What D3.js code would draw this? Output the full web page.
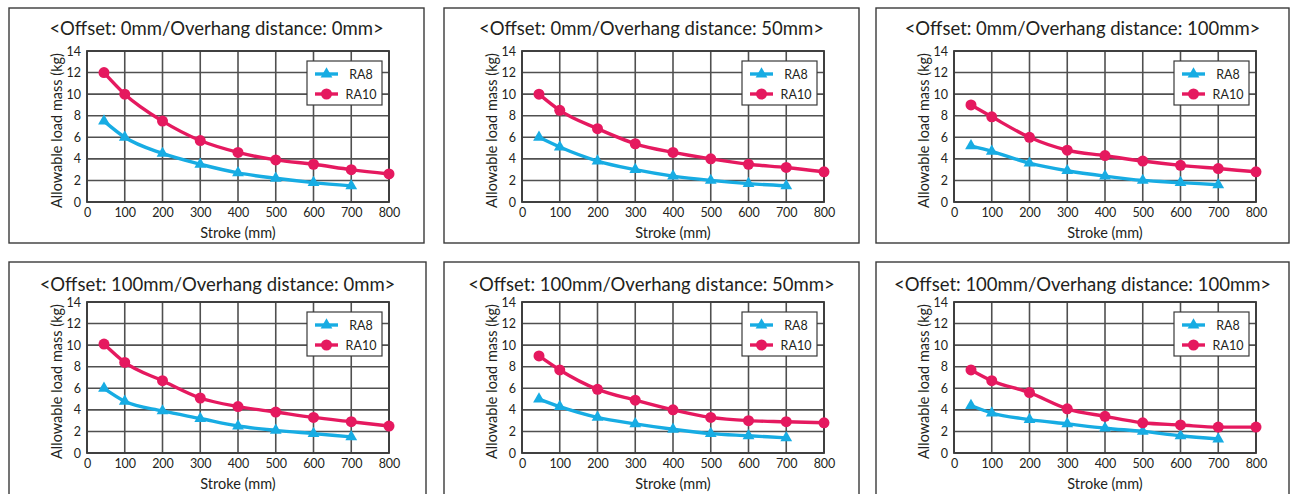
<!DOCTYPE html>
<html><head><meta charset="utf-8">
<script src="https://cdn.jsdelivr.net/npm/d3@7"></script>
<style>body{margin:0;background:#fff}svg{display:block}text{font-family:Lato,"Noto Sans",sans-serif;fill:#231f20}</style>
</head><body><svg id="c" width="1291" height="494"></svg>
<script>
const titles = [
  "<Offset: 0mm/Overhang distance: 0mm>",
  "<Offset: 0mm/Overhang distance: 50mm>",
  "<Offset: 0mm/Overhang distance: 100mm>",
  "<Offset: 100mm/Overhang distance: 0mm>",
  "<Offset: 100mm/Overhang distance: 50mm>",
  "<Offset: 100mm/Overhang distance: 100mm>"
];
const strokeRA8 = [45, 100, 200, 300, 400, 500, 600, 700];
const strokeRA10 = [45, 100, 200, 300, 400, 500, 600, 700, 800];
const ra8Values = [
  [7.5, 6.0, 4.5, 3.5, 2.7, 2.2, 1.8, 1.5],
  [6.0, 5.1, 3.8, 3.0, 2.4, 2.0, 1.7, 1.5],
  [5.2, 4.7, 3.6, 2.9, 2.4, 2.0, 1.8, 1.6],
  [6.0, 4.8, 3.9, 3.2, 2.5, 2.1, 1.8, 1.5],
  [5.0, 4.3, 3.3, 2.7, 2.2, 1.8, 1.6, 1.4],
  [4.4, 3.7, 3.1, 2.7, 2.3, 2.0, 1.6, 1.3]
];
const ra10Values = [
  [12.0, 10.0, 7.5, 5.7, 4.6, 3.9, 3.5, 3.0, 2.6],
  [10.0, 8.5, 6.8, 5.4, 4.6, 4.0, 3.5, 3.2, 2.8],
  [9.0, 7.9, 6.0, 4.8, 4.3, 3.8, 3.4, 3.1, 2.8],
  [10.1, 8.4, 6.7, 5.1, 4.3, 3.8, 3.3, 2.9, 2.5],
  [9.0, 7.7, 5.9, 4.9, 4.0, 3.3, 3.0, 2.9, 2.8],
  [7.7, 6.7, 5.6, 4.1, 3.4, 2.8, 2.6, 2.4, 2.4]
];
const xTicks = [0, 100, 200, 300, 400, 500, 600, 700, 800];
const yTicks = [0, 2, 4, 6, 8, 10, 12, 14];
const seriesNames = ["RA8", "RA10"];
const xLabel = "Stroke (mm)";
const yLabel = "Allowable load mass (kg)";

const colors = {RA8: "#17ace3", RA10: "#e5195f"};
const svg = d3.select("#c");
const boxes = [
  {x: 9, y: 8, w: 415, h: 235}, {x: 444, y: 8, w: 415, h: 235}, {x: 876, y: 8, w: 413, h: 235},
  {x: 9, y: 262, w: 417, h: 240}, {x: 444, y: 262, w: 415, h: 240}, {x: 876, y: 262, w: 413, h: 240}
];
const plotTop = [51, 51, 51, 302, 302, 302];
const PW = 302, PH = 151;

boxes.forEach((b, i) => {
  const g = svg.append("g");
  g.append("rect").attr("x", b.x).attr("y", b.y).attr("width", b.w).attr("height", b.h)
    .attr("fill", "#fff").attr("stroke", "#3a3a3a").attr("stroke-width", 1.4);
  const tY = i < 3 ? b.y + 27 : b.y + 29;
  g.append("text").attr("x", b.x + b.w / 2).attr("y", tY).attr("text-anchor", "middle")
    .attr("font-size", 18.5).text(titles[i]);

  const left = b.x + 78, top = plotTop[i];
  const x = d3.scaleLinear().domain([0, 800]).range([left, left + PW]);
  const y = d3.scaleLinear().domain([0, 14]).range([top + PH, top]);
  const gc = "#505050";
  g.append("g").selectAll("line").data(xTicks).join("line")
    .attr("x1", d => x(d)).attr("x2", d => x(d)).attr("y1", top).attr("y2", top + PH)
    .attr("stroke", gc).attr("stroke-width", 1.6);
  g.append("g").selectAll("line").data(yTicks).join("line")
    .attr("x1", left).attr("x2", left + PW).attr("y1", d => y(d)).attr("y2", d => y(d))
    .attr("stroke", gc).attr("stroke-width", 1.6);
  g.append("rect").attr("x", left).attr("y", top).attr("width", PW).attr("height", PH)
    .attr("fill", "none").attr("stroke", "#3a3a3a").attr("stroke-width", 1.8);
  const ax = g.append("g").attr("transform", `translate(0,${top + PH})`)
    .call(d3.axisBottom(x).tickValues(xTicks).tickSize(0).tickPadding(6));
  const ay = g.append("g").attr("transform", `translate(${left},0)`)
    .call(d3.axisLeft(y).tickValues(yTicks).tickSize(0).tickPadding(6));
  [ax, ay].forEach(a => {
    a.select(".domain").remove();
    a.selectAll("text").attr("font-size", 12.5).attr("fill", "#231f20")
      .attr("font-family", "Lato,sans-serif");
  });
  g.append("text").attr("x", left + PW / 2).attr("y", top + PH + 36).attr("text-anchor", "middle")
    .attr("font-size", 14.5).text(xLabel);
  g.append("text").attr("transform", `translate(${left - 25},${top + PH / 2 + 4}) rotate(-90)`)
    .attr("text-anchor", "middle").attr("font-size", 14.5).text(yLabel);

  const line = d3.line().x(d => x(d[0])).y(d => y(d[1])).curve(d3.curveMonotoneX);
  const d8 = strokeRA8.map((s, k) => [s, ra8Values[i][k]]);
  const d10 = strokeRA10.map((s, k) => [s, ra10Values[i][k]]);
  g.append("path").attr("d", line(d8)).attr("fill", "none").attr("stroke", colors.RA8).attr("stroke-width", 3.4);
  g.append("path").attr("d", line(d10)).attr("fill", "none").attr("stroke", colors.RA10).attr("stroke-width", 3.4);
  const tri = d3.symbol().type(d3.symbolTriangle).size(60);
  g.append("g").selectAll("path").data(d8).join("path")
    .attr("d", tri).attr("transform", d => `translate(${x(d[0])},${y(d[1])})`).attr("fill", colors.RA8);
  g.append("g").selectAll("circle").data(d10).join("circle")
    .attr("cx", d => x(d[0])).attr("cy", d => y(d[1])).attr("r", 5.5).attr("fill", colors.RA10);

  const lx = left + 220, ly = top + 10;
  const lg = g.append("g");
  lg.append("rect").attr("x", lx).attr("y", ly).attr("width", 75).attr("height", 44)
    .attr("fill", "#fff").attr("stroke", "#3a3a3a").attr("stroke-width", 1.2);
  seriesNames.forEach((nm, k) => {
    const yy = ly + 13 + k * 20;
    lg.append("line").attr("x1", lx + 8).attr("x2", lx + 31).attr("y1", yy).attr("y2", yy)
      .attr("stroke", colors[nm]).attr("stroke-width", 3.4);
    if (nm === "RA8") lg.append("path").attr("d", tri).attr("transform", `translate(${lx + 19.5},${yy})`).attr("fill", colors[nm]);
    else lg.append("circle").attr("cx", lx + 19.5).attr("cy", yy).attr("r", 5.5).attr("fill", colors[nm]);
    lg.append("text").attr("x", lx + 54).attr("y", yy + 4.5).attr("text-anchor", "middle")
      .attr("font-size", 12.5).text(nm);
  });
});
</script></body></html>
